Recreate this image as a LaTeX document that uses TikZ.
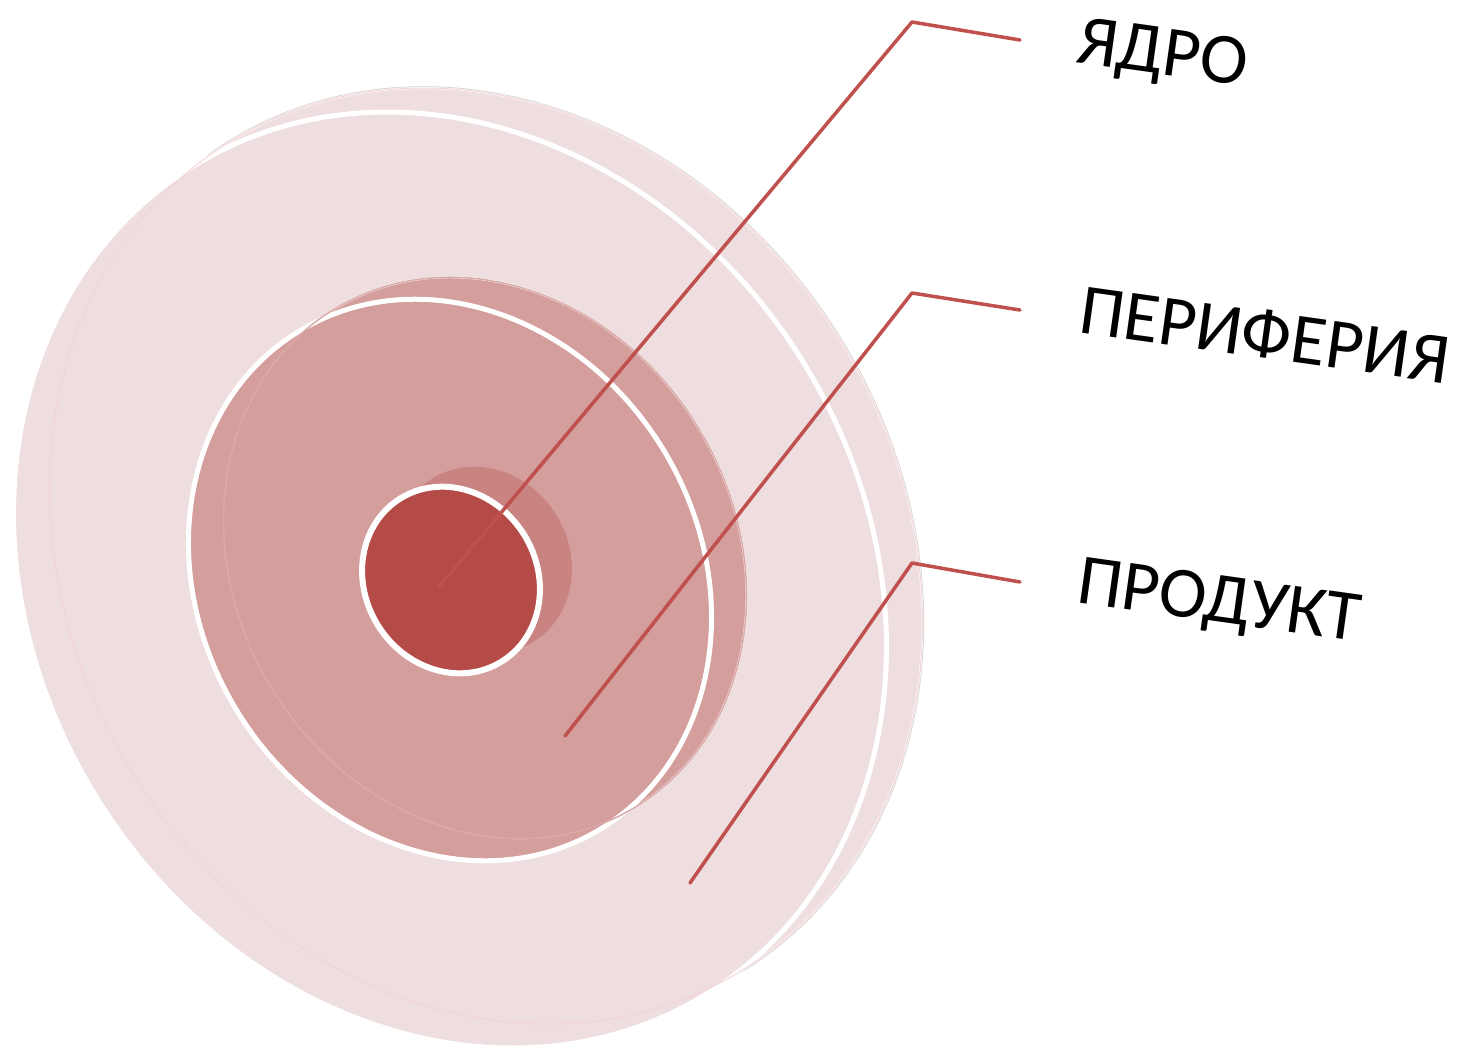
\documentclass[tikz,border=0pt]{standalone}
\usepackage{fontspec}
\setmainfont{Carlito}
\definecolor{outerc}{HTML}{EEDEDF}
\definecolor{midc}{HTML}{D49E9D}
\definecolor{innerc}{HTML}{B54B47}
\definecolor{innerbk}{HTML}{C98482}
\definecolor{linec}{HTML}{C0504D}
\definecolor{rimc}{HTML}{D2D2D2}
\definecolor{faintouter}{HTML}{F4D4D4}
\definecolor{faintmid}{HTML}{DAAAA9}
\tikzset{
  frontrim/.style={draw=white, line width=5pt},
  backrim/.style={draw=white, line width=2pt},
  leader/.style={draw=linec, line width=3.5pt, line cap=round, line join=round},
  lbl/.style={inner sep=0pt, anchor=base west, rotate=-8, font=\fontsize{72}{78}\selectfont},
}
\begin{document}
\begin{tikzpicture}[x=1pt,y=-1pt]
\useasboundingbox (0,0) rectangle (1462,1053);
\fill[white] (0,0) rectangle (1462,1053);
% outer disc
\draw[rimc, line width=3.5pt, rotate around={32:(486,556)}] (486,556) ellipse [x radius=415, y radius=487];
\filldraw[fill=outerc, backrim, rotate around={32:(486,556)}] (486,556) ellipse [x radius=415, y radius=487];
\filldraw[fill=outerc, frontrim, rotate around={32:(450,580)}] (450,580) ellipse [x radius=415, y radius=487];
\draw[faintouter, line width=1pt, rotate around={32:(486,556)}] (486,556) ellipse [x radius=415, y radius=487];
% middle disc
\filldraw[fill=midc, backrim, rotate around={31:(485,558)}] (485,558) ellipse [x radius=250, y radius=291];
\filldraw[fill=midc, frontrim, rotate around={31:(450,580)}] (450,580) ellipse [x radius=250, y radius=291];
\draw[faintmid, line width=1.5pt, rotate around={31:(485,558)}] (485,558) ellipse [x radius=250, y radius=291];
% inner disc
\fill[innerbk, rotate around={32:(483,560)}] (483,560) ellipse [x radius=86, y radius=96];
\filldraw[fill=innerc, draw=white, line width=6pt, rotate around={32:(451,580)}] (451,580) ellipse [x radius=86, y radius=96];
% labels
\node[lbl] (t1) at (1075,62) {ЯДРО};
\node[lbl] (t2) at (1077,332) {ПЕРИФЕРИЯ};
\node[lbl] (t3) at (1075,602) {ПРОДУКТ};
% leader coordinates
\coordinate (a1) at (438,588);
\coordinate (b1) at (912,22);
\coordinate (c1) at (1020,40);
\coordinate (a2) at (565,736);
\coordinate (b2) at (912,293);
\coordinate (c2) at (1020,310);
\coordinate (a3) at (690,883);
\coordinate (b3) at (912,563);
\coordinate (c3) at (1020,582);
\draw[leader] (a1) -- (b1) -- (c1);
\draw[leader] (a2) -- (b2) -- (c2);
\draw[leader] (a3) -- (b3) -- (c3);
\end{tikzpicture}
\end{document}
